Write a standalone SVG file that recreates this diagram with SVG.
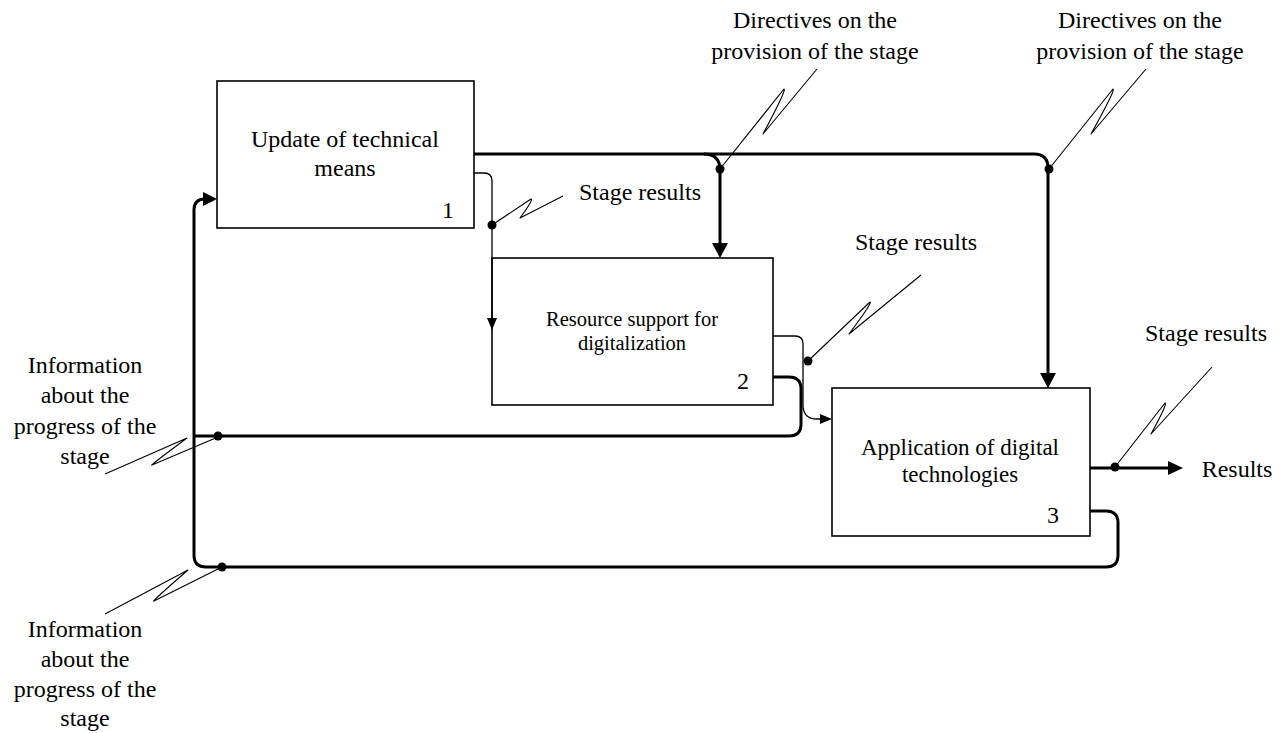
<svg xmlns="http://www.w3.org/2000/svg" width="1287" height="733" viewBox="0 0 1287 733">
<style>
.box{fill:#fff;stroke:#000;stroke-width:1.6}
.t{font-family:"Liberation Serif","Times New Roman",serif;fill:#000;text-anchor:middle}
.thick{fill:none;stroke:#000;stroke-width:3}
.thin{fill:none;stroke:#000;stroke-width:1.3}
.call{fill:none;stroke:#000;stroke-width:1.1;stroke-linejoin:round}
.dot{fill:#000}
.ah{fill:#000}
</style>
<rect width="1287" height="733" fill="#fff"/>
<g id="node1">
  <rect class="box" x="217" y="81" width="257" height="147"/>
  <text class="t" font-size="24" x="345" y="147">Update of technical</text>
  <text class="t" font-size="24" x="345" y="176">means</text>
  <text class="t" font-size="24" x="448" y="218">1</text>
</g>
<g id="node2">
  <rect class="box" x="492" y="258" width="281" height="147"/>
  <text class="t" font-size="20.5" x="632" y="326">Resource support for</text>
  <text class="t" font-size="20.5" x="632" y="350">digitalization</text>
  <text class="t" font-size="24" x="743" y="389">2</text>
</g>
<g id="node3">
  <rect class="box" x="832" y="388" width="258" height="148"/>
  <text class="t" font-size="23" x="960" y="455">Application of digital</text>
  <text class="t" font-size="23" x="960" y="482">technologies</text>
  <text class="t" font-size="24" x="1053" y="523">3</text>
</g>
<g id="connectors">
  <path class="thick" d="M474,154 H1034 Q1048,154 1048,168 V374"/>
  <path class="thick" d="M704,154 Q720,154 720,170 V244"/>
  <polygon class="ah" points="712,243 728,243 720,258"/>
  <polygon class="ah" points="1040,373 1056,373 1048,388"/>
  <path class="thin" d="M474,173 H484 Q492,173 492,181 V318"/>
  <polygon class="ah" points="487,318 497,318 492,330"/>
  <path class="thin" d="M773,336 H795 Q803,336 803,344 V405 Q803,419 817,419 H821"/>
  <polygon class="ah" points="820,414 820,424 832,419"/>
  <path class="thick" d="M773,377 H789 Q801,377 801,389 V424 Q801,436 789,436 H194"/>
  <path class="thick" d="M1090,511 H1106 Q1118,511 1118,523 V555 Q1118,567 1106,567 H206 Q194,567 194,555 V210 Q194,199 205,199 H206"/>
  <polygon class="ah" points="203,192 203,206 217,199"/>
  <path class="thick" d="M1090,468 H1168"/>
  <polygon class="ah" points="1168,461 1168,475 1183,468"/>
  <path class="call" d="M492,225 L531,199 Q534,199 520,218 L563,196"/>
  <path class="call" d="M720,169 L784,89 Q787,89 763,134 L817,69"/>
  <path class="call" d="M1049,169 L1113,89 Q1116,89 1091,134 L1146,69"/>
  <path class="call" d="M808,361 L870,302 Q873,302 849,334 L921,275"/>
  <path class="call" d="M1115,467 L1165,403 Q1168,403 1151,434 L1212,367"/>
  <path class="call" d="M218,437 L152,465 Q148,467 187,438 L105,474"/>
  <path class="call" d="M222,567 L154,601 Q150,603 188,570 L105,614"/>
  <circle class="dot" cx="492" cy="225" r="4.5"/>
  <circle class="dot" cx="720" cy="169" r="4.5"/>
  <circle class="dot" cx="1049" cy="169" r="4.5"/>
  <circle class="dot" cx="808" cy="361" r="4.5"/>
  <circle class="dot" cx="1115" cy="467" r="4.5"/>
  <circle class="dot" cx="218" cy="436" r="4.5"/>
  <circle class="dot" cx="222" cy="567" r="4.5"/>
</g>
<g id="labels">
  <text class="t" font-size="24" x="815" y="28">Directives on the</text>
  <text class="t" font-size="24" x="815" y="59">provision of the stage</text>
  <text class="t" font-size="24" x="1140" y="28">Directives on the</text>
  <text class="t" font-size="24" x="1140" y="59">provision of the stage</text>
  <text class="t" font-size="24" x="640" y="200">Stage results</text>
  <text class="t" font-size="24" x="916" y="250">Stage results</text>
  <text class="t" font-size="24" x="1206" y="341">Stage results</text>
  <text class="t" font-size="24" x="1237" y="477">Results</text>
  <text class="t" font-size="24" x="85" y="373">Information</text>
  <text class="t" font-size="24" x="85" y="403">about the</text>
  <text class="t" font-size="24" x="85" y="434">progress of the</text>
  <text class="t" font-size="24" x="85" y="464">stage</text>
  <text class="t" font-size="24" x="85" y="637">Information</text>
  <text class="t" font-size="24" x="85" y="667">about the</text>
  <text class="t" font-size="24" x="85" y="697">progress of the</text>
  <text class="t" font-size="24" x="85" y="726">stage</text>
</g>
</svg>
